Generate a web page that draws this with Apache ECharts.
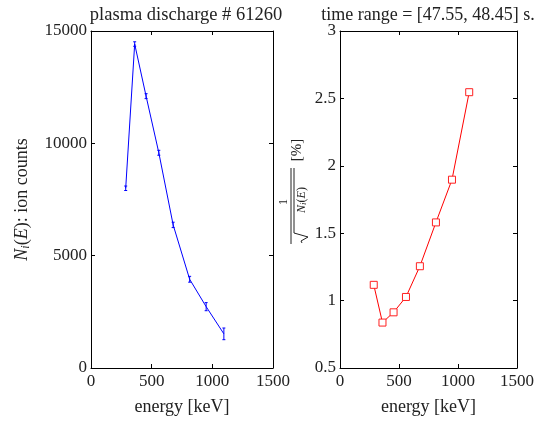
<!DOCTYPE html>
<html>
<head>
<meta charset="utf-8">
<script src="https://cdn.jsdelivr.net/npm/echarts@6/dist/echarts.min.js"></script>
<style>
  html, body { margin: 0; padding: 0; background: #fff; }
  #chart { width: 537px; height: 421px; }
</style>
</head>
<body>
<div id="chart"></div>
<script>
// energy channels [keV]
const energy = [286, 360, 454, 559, 677, 813, 949, 1095];
// ion counts and their error bars
const counts = [8000, 14420, 12100, 9580, 6370, 3950, 2730, 1520];
const countErr = [100, 100, 110, 110, 120, 130, 180, 260];
// relative error 1/sqrt(N) [%]
const relErr = [1.117, 0.837, 0.913, 1.027, 1.255, 1.58, 1.897, 2.546];

const font = 'Liberation Serif';

const chart = echarts.init(document.getElementById('chart'));

const labelStyle = {
  color: '#222', fontFamily: font, fontSize: 17,
  formatter: function (v) { return String(v); }
};

function xAx(gi, pos, labels) {
  return {
    type: 'value', gridIndex: gi, position: pos, min: 0, max: 1500, interval: 500,
    axisLine: { show: true, onZero: false, lineStyle: { color: '#000', width: 1 } },
    axisTick: { show: true, inside: true, length: 4, lineStyle: { color: '#000' } },
    axisLabel: Object.assign({ show: labels, margin: 5 }, labelStyle),
    splitLine: { show: false },
    name: labels ? 'energy [keV]' : '', nameLocation: 'middle', nameGap: 30,
    nameTextStyle: { color: '#222', fontFamily: font, fontSize: 18 }
  };
}
function yAx(gi, pos, labels, min, max, step, extra) {
  return Object.assign({
    type: 'value', gridIndex: gi, position: pos, min: min, max: max, interval: step,
    axisLine: { show: true, onZero: false, lineStyle: { color: '#000', width: 1 } },
    axisTick: { show: true, inside: true, length: 4, lineStyle: { color: '#000' } },
    axisLabel: Object.assign({ show: labels, margin: 4 }, labelStyle),
    splitLine: { show: false }
  }, extra || {});
}

const option = {
  animation: false,
  backgroundColor: '#fff',
  textStyle: { fontFamily: font },
  title: [
    { text: 'plasma discharge # 61260', left: 181, top: 1, textAlign: 'center',
      textStyle: { fontFamily: font, fontSize: 18.5, fontWeight: 'normal', color: '#222' } },
    { text: 'time range = [47.55, 48.45] s.', left: 423, top: 1, textAlign: 'center',
      textStyle: { fontFamily: font, fontSize: 18, fontWeight: 'normal', color: '#222' } }
  ],
  grid: [
    { left: 91, right: 264, top: 31, bottom: 53 },
    { left: 340, right: 16, top: 31, bottom: 53 }
  ],
  xAxis: [xAx(0, 'bottom', true), xAx(0, 'top', false), xAx(1, 'bottom', true), xAx(1, 'top', false)],
  yAxis: [
    yAx(0, 'left', true, 0, 15000, 5000, {
      name: '{it|N}{sub|i}{n|(}{it|E}{n|): ion counts}', nameLocation: 'middle', nameGap: 59,
      nameTextStyle: {
        color: '#222', fontFamily: font, fontSize: 18,
        rich: {
          it: { fontFamily: font, fontSize: 18, fontStyle: 'italic', color: '#222' },
          sub: { fontFamily: font, fontSize: 12, fontStyle: 'italic', color: '#222', padding: [7, 0, 0, 0] },
          n: { fontFamily: font, fontSize: 18, color: '#222' }
        }
      }
    }),
    yAx(0, 'right', false, 0, 15000, 5000),
    yAx(1, 'left', true, 0.5, 3, 0.5),
    yAx(1, 'right', false, 0.5, 3, 0.5)
  ],
  graphic: [{
    type: 'group', x: 291, y: 206, rotation: Math.PI / 2,
    children: [
      { type: 'line', shape: { x1: -38, y1: 0, x2: 38, y2: 0 }, style: { stroke: '#222', lineWidth: 1 } },
      { type: 'text', x: 4, y: -1, style: { text: '1', font: "12px 'Liberation Serif'", fill: '#222', align: 'center', verticalAlign: 'bottom' } },
      { type: 'polyline', shape: { points: [[-37, 11], [-35, 10], [-31, 17], [-27, 3], [38, 3]] }, style: { stroke: '#222', lineWidth: 1, fill: null } },
      { type: 'text', x: 6, y: 4, style: {
          rich: {
            it: { font: "italic 12px 'Liberation Serif'", fill: '#222' },
            sub: { font: "italic 9px 'Liberation Serif'", fill: '#222', padding: [4, 0, 0, 0] },
            n: { font: "12px 'Liberation Serif'", fill: '#222' }
          },
          text: '{it|N}{sub|i}{n|(}{it|E}{n|)}', align: 'center', verticalAlign: 'top'
        } },
      { type: 'text', x: 56, y: 6, style: { text: '[%]', font: "15px 'Liberation Serif'", fill: '#222', align: 'center', verticalAlign: 'middle' } }
    ]
  }],
  series: [
    {
      type: 'line', xAxisIndex: 0, yAxisIndex: 0, symbol: 'none',
      lineStyle: { color: '#0000ff', width: 1 },
      data: energy.map((e, i) => [e, counts[i]])
    },
    {
      type: 'custom', xAxisIndex: 0, yAxisIndex: 0,
      data: energy.map((e, i) => [e, counts[i] - countErr[i], counts[i] + countErr[i]]),
      renderItem: function (params, api) {
        const lo = api.coord([api.value(0), api.value(1)]);
        const hi = api.coord([api.value(0), api.value(2)]);
        const w = 1.5;
        const st = { stroke: '#0000ff', lineWidth: 1 };
        return {
          type: 'group',
          children: [
            { type: 'line', shape: { x1: lo[0], y1: lo[1], x2: hi[0], y2: hi[1] }, style: st },
            { type: 'line', shape: { x1: lo[0] - w, y1: lo[1], x2: lo[0] + w, y2: lo[1] }, style: st },
            { type: 'line', shape: { x1: hi[0] - w, y1: hi[1], x2: hi[0] + w, y2: hi[1] }, style: st }
          ]
        };
      }
    },
    {
      type: 'line', xAxisIndex: 2, yAxisIndex: 2, symbol: 'rect', symbolSize: 7,
      lineStyle: { color: '#ff0000', width: 1 },
      itemStyle: { color: '#fff', borderColor: '#ff2020', borderWidth: 1 },
      data: energy.map((e, i) => [e, relErr[i]])
    }
  ]
};
chart.setOption(option);
</script>
</body>
</html>
